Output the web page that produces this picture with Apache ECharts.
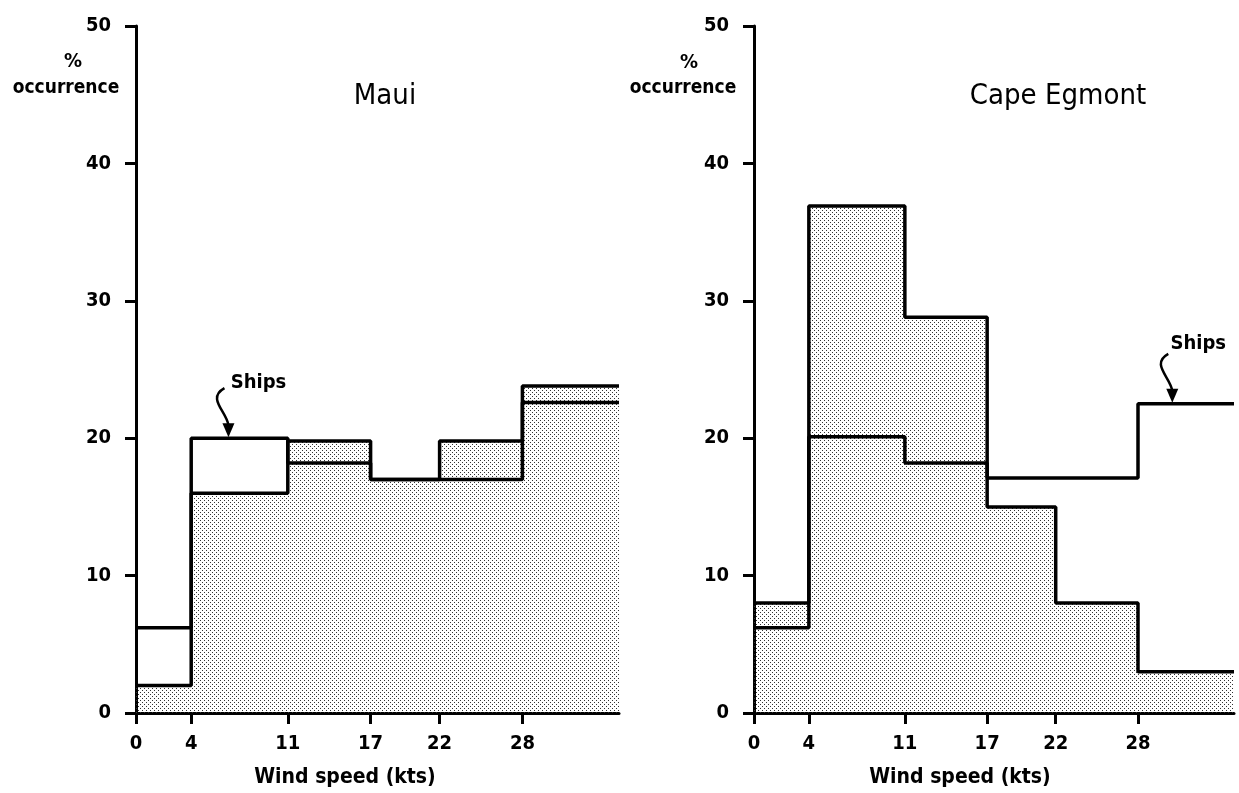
<!DOCTYPE html>
<html lang="en">
<head>
    <meta charset="UTF-8"/>
    <title>Wind speed occurrence - Maui / Cape Egmont</title>
    <script src="https://cdn.jsdelivr.net/npm/echarts@6/dist/echarts.min.js"></script>
    <style>html,body{margin:0;padding:0;background:#fff;}</style>
</head>
<body>
<div id="main" style="width:1239px;height:793px;"></div>
<script type="text/javascript">
    // wind speed classes (kts); the last edge closes the top class
    var binEdges = [0, 4, 11, 17, 22, 28, 35];
    var tickValues = [0, 4, 11, 17, 22, 28];
    // % occurrence per class
    var mauiStation = [2.0, 16.0, 19.8, 17.0, 19.8, 23.8];
    var mauiShips = [6.2, 20.0, 18.2, 17.0, 17.0, 22.6];
    var egmontStation = [8.0, 36.9, 28.8, 15.0, 8.0, 3.0];
    var egmontShips = [6.2, 20.1, 18.2, 17.1, 17.1, 22.5];

    var FONT = '"DejaVu Sans Condensed", "DejaVu Sans", sans-serif';

    // turn class values into [edge, value] points for a stepped line
    function steps(vals) {
        var pts = [];
        for (var i = 0; i < vals.length; i++) {
            pts.push([binEdges[i], vals[i]]);
        }
        pts.push([binEdges[binEdges.length - 1], vals[vals.length - 1]]);
        return pts;
    }

    // stipple fill like the printed dot screen
    var dots = document.createElement('canvas');
    dots.width = 4;
    dots.height = 4;
    var ctx = dots.getContext('2d');
    ctx.fillStyle = '#333';
    ctx.fillRect(0, 0, 1, 1);
    ctx.fillRect(2, 2, 1, 1);

    function xAxisOf(i) {
        return {
            type: 'value', gridIndex: i, min: 0, max: 35,
            axisLine: {show: true, lineStyle: {color: '#000', width: 3}},
            axisTick: {show: true, customValues: tickValues, length: 11, lineStyle: {color: '#000', width: 3}},
            axisLabel: {customValues: tickValues, margin: 21, color: '#000', fontSize: 20, fontWeight: 'bold', fontFamily: FONT},
            splitLine: {show: false}
        };
    }
    function yAxisOf(i) {
        return {
            type: 'value', gridIndex: i, min: 0, max: 50, interval: 10,
            axisLine: {show: true, lineStyle: {color: '#000', width: 3}},
            axisTick: {show: true, length: 11, lineStyle: {color: '#000', width: 3}},
            axisLabel: {margin: 25, color: '#000', fontSize: 20, fontWeight: 'bold', fontFamily: FONT},
            splitLine: {show: false}
        };
    }
    function stationSeries(i, vals) {
        return {
            type: 'line', xAxisIndex: i, yAxisIndex: i, step: 'end', symbol: 'none', silent: true,
            data: steps(vals),
            lineStyle: {color: '#000', width: 3.5},
            areaStyle: {color: {image: dots, repeat: 'repeat'}, opacity: 1},
            z: 2
        };
    }
    function shipsSeries(i, vals) {
        return {
            type: 'line', xAxisIndex: i, yAxisIndex: i, step: 'end', symbol: 'none', silent: true,
            data: steps(vals),
            lineStyle: {color: '#000', width: 3.5},
            z: 3
        };
    }

    var myChart = echarts.init(document.getElementById('main'));
    var option = {
        animation: false,
        backgroundColor: '#fff',
        grid: [
            {left: 136, top: 26, width: 483, height: 687},
            {left: 754, top: 26, width: 480, height: 687}
        ],
        xAxis: [xAxisOf(0), xAxisOf(1)],
        yAxis: [yAxisOf(0), yAxisOf(1)],
        series: [
            stationSeries(0, mauiStation),
            shipsSeries(0, mauiShips),
            stationSeries(1, egmontStation),
            shipsSeries(1, egmontShips)
        ]
    };
    myChart.setOption(option);

    function label(text, x, y, size, weight) {
        return {
            type: 'text', silent: true, z: 10,
            style: {
                text: text, x: x, y: y, fill: '#000',
                font: weight + ' ' + size + 'px ' + FONT,
                textAlign: 'center', textVerticalAlign: 'middle',
                align: 'center', verticalAlign: 'middle'
            }
        };
    }
    // "Ships" callout with curly arrow, anchored on the ships line
    function callout(gridIndex, at, tx, ty) {
        var p = myChart.convertToPixel({gridIndex: gridIndex}, at);
        var x = p[0], y = p[1];
        return [
            {
                type: 'bezierCurve', silent: true, z: 10,
                shape: {x1: x - 4, y1: y - 50, cpx1: x - 22, cpy1: y - 40, cpx2: x - 2, cpy2: y - 27, x2: x, y2: y - 13},
                style: {stroke: '#000', lineWidth: 2.5, fill: null}
            },
            {
                type: 'polygon', silent: true, z: 10,
                shape: {points: [[x - 6, y - 15], [x + 6, y - 15], [x, y - 1]]},
                style: {fill: '#000'}
            },
            label('Ships', x + tx, y + ty, 20, 'bold')
        ];
    }

    var graphics = [
        label('Maui', 385, 96, 29, 'normal'),
        label('Cape Egmont', 1058, 96, 29, 'normal'),
        label('%', 73, 62, 20, 'bold'),
        label('occurrence', 66, 88, 19, 'bold'),
        label('%', 689, 63, 20, 'bold'),
        label('occurrence', 683, 88, 19, 'bold'),
        label('Wind speed (kts)', 345, 778, 21, 'bold'),
        label('Wind speed (kts)', 960, 778, 21, 'bold')
    ];
    graphics = graphics.concat(callout(0, [6.7, mauiShips[1]], 30, -55));
    graphics = graphics.concat(callout(1, [30.5, egmontShips[5]], 26, -60));
    myChart.setOption({graphic: graphics});
</script>
</body>
</html>
